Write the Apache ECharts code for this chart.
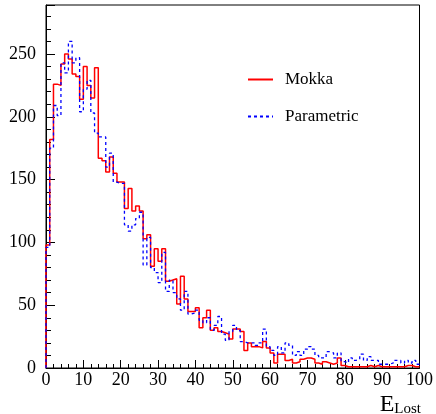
<!DOCTYPE html>
<html>
<head>
<meta charset="utf-8">
<script src="https://cdn.jsdelivr.net/npm/echarts@6/dist/echarts.min.js"></script>
<style>
  html, body { margin: 0; padding: 0; background: #fff; }
  #chart { width: 436px; height: 414px; }
</style>
</head>
<body>
<div id="chart"></div>
<script>
// bin contents, one value per 1-unit bin from 0 to 100
var mokka = [
  98, 182, 226, 225, 242, 250, 246, 234, 232, 214,
  240, 225, 215, 239, 167, 165, 156, 168, 155, 148,
  148, 127, 143, 125, 129, 125, 103, 106, 81, 95,
  85, 95, 69, 70, 71, 51, 73, 55, 45, 45,
  48, 32, 40, 46, 30, 32, 29, 28, 27, 23,
  31, 31, 29, 14, 20, 17, 17, 16, 21, 16,
  12, 4, 11, 11, 6, 7, 4, 5, 7, 8,
  8, 7, 4, 3, 5, 4, 3, 4, 8, 2,
  1, 1, 1, 1, 1, 1, 2, 1, 2, 1,
  1, 1, 1, 1, 1, 1, 2, 2, 1, 1
];
var parametric = [
  96, 175, 209, 201, 243, 235, 260, 243, 247, 204,
  222, 229, 203, 187, 184, 184, 160, 171, 148, 147,
  147, 114, 109, 114, 119, 124, 82, 104, 80, 76,
  68, 92, 61, 70, 60, 55, 46, 61, 43, 44,
  46, 38, 36, 40, 30, 34, 41, 27, 22, 29,
  34, 30, 21, 20, 20, 20, 18, 20, 31, 17,
  14, 10, 17, 12, 20, 18, 10, 13, 10, 15,
  17, 15, 10, 8, 8, 13, 12, 8, 12, 5,
  4, 8, 6, 7, 11, 6, 9, 6, 6, 3,
  3, 3, 4, 6, 6, 4, 6, 4, 6, 3
];
var seriesNames = ['Mokka', 'Parametric'];
var xRange = [0, 100];
var yRange = [0, 289];

// turn bin contents into step points (left edge of each bin + closing edge)
function toSteps(vals) {
  var pts = [[0, 0]];
  for (var i = 0; i < vals.length; i++) {
    pts.push([i, vals[i]]);
  }
  pts.push([vals.length, vals[vals.length - 1]]);
  return pts;
}

var serif = '"Liberation Serif", "DejaVu Serif", serif';

var myChart = echarts.init(document.getElementById('chart'));
var option = {
  backgroundColor: '#fff',
  animation: false,
  grid: {
    left: 46, right: 15, top: 5, bottom: 46,
    show: true, borderColor: '#000', borderWidth: 1
  },
  title: {
    text: '{e|E}{s|Lost}',
    right: 10, bottom: -5,
    textStyle: {
      rich: {
        e: { fontFamily: serif, fontSize: 24, fontWeight: 'normal', color: '#000', verticalAlign: 'bottom' },
        s: { fontFamily: serif, fontSize: 15, fontWeight: 'normal', color: '#000', padding: [12, 0, 0, 0], verticalAlign: 'bottom' }
      }
    }
  },
  legend: {
    data: seriesNames,
    orient: 'vertical',
    left: 242, top: 66,
    itemWidth: 25, itemHeight: 14,
    itemGap: 20,
    itemStyle: { opacity: 0 },
    textStyle: { fontFamily: serif, fontSize: 17, color: '#000', padding: [0, 0, 0, 7] }
  },
  xAxis: {
    type: 'value',
    min: xRange[0], max: xRange[1], interval: 10,
    axisLine: { lineStyle: { color: '#000', width: 1 } },
    axisTick: { inside: true, length: 8, lineStyle: { color: '#000' } },
    minorTick: { show: true, splitNumber: 5, length: 4, lineStyle: { color: '#000' } },
    splitLine: { show: false },
    axisLabel: { fontFamily: serif, fontSize: 18, color: '#000', margin: 3 }
  },
  yAxis: {
    type: 'value',
    min: yRange[0], max: yRange[1], interval: 50,
    axisLine: { show: true, lineStyle: { color: '#000', width: 1 } },
    axisTick: { inside: true, length: 9, lineStyle: { color: '#000' } },
    minorTick: { show: true, splitNumber: 5, length: 5, lineStyle: { color: '#000' } },
    splitLine: { show: false },
    axisLabel: { fontFamily: serif, fontSize: 18, color: '#000', margin: 10, showMaxLabel: false }
  },
  series: [{
    name: seriesNames[0],
    type: 'line',
    step: 'end',
    symbol: 'none',
    lineStyle: { color: '#ff0000', width: 1.5 },
    itemStyle: { color: '#ff0000' },
    data: toSteps(mokka)
  }, {
    name: seriesNames[1],
    type: 'line',
    step: 'end',
    symbol: 'none',
    lineStyle: { color: '#0000ff', width: 1.3, type: [3, 3] },
    itemStyle: { color: '#0000ff' },
    data: toSteps(parametric)
  }]
};
myChart.setOption(option);
</script>
</body>
</html>
